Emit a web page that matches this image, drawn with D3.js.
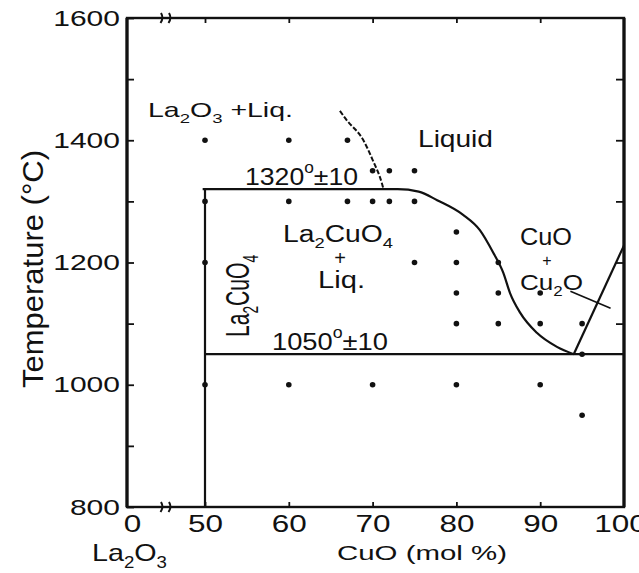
<!DOCTYPE html>
<html>
<head>
<meta charset="utf-8">
<script src="https://cdn.jsdelivr.net/npm/d3@7"></script>
<style>
  html, body { margin: 0; padding: 0; background: #fff; }
  svg { display: block; font-family: "Liberation Sans", Arial, sans-serif; }
</style>
</head>
<body>
<div id="chart"></div>
<script>
// ---- data ----
const tempTicks = [800, 1000, 1200, 1400, 1600];
const tempMinorTicks = [900, 1100, 1300, 1500];
const rightTicks = [1100, 1200, 1300, 1400, 1500];
const compTicks = [0, 50, 60, 70, 80, 90, 100];
const compLabels = ["0", "50", "60", "70", "80", "90", "100"];
const topTicks = [50, 60, 70, 80, 90];

// experimental points (CuO mol%, temperature)
const pointComp = [50, 60, 67, 70, 72, 75, 50, 60, 67, 70, 72, 75, 80, 50, 75, 80, 85,
                   80, 85, 90, 80, 85, 90, 95, 95, 50, 60, 70, 80, 90, 95];
const pointTemp = [1400, 1400, 1400, 1350, 1350, 1350, 1300, 1300, 1300, 1300, 1300, 1300, 1250, 1200, 1200, 1200, 1200,
                   1150, 1150, 1150, 1100, 1100, 1100, 1100, 1050, 1000, 1000, 1000, 1000, 1000, 950];

// liquidus of La2CuO4 (starts with the 1320 peritectic line)
const liquidusComp = [48.5, 60, 70, 73, 75.5, 77.7, 80.8, 82.8, 84.4, 85.6, 86.4, 87.6, 89.6, 92.0, 94.0];
const liquidusTemp = [1320, 1320, 1320, 1320, 1316, 1302, 1278, 1253, 1216, 1183, 1150, 1118, 1085, 1062, 1050];
// La2O3 liquidus (dashed)
const la2o3Comp = [66.1, 66.9, 68.9, 70.0, 71.1, 71.3];
const la2o3Temp = [1448, 1433, 1400, 1368, 1330, 1320];
// CuO / Cu2O boundary
const cuoComp = [94, 100];
const cuoTemp = [1050, 1228];
// La2CuO4 line compound and eutectic
const compoundComp = 50;
const compoundTemp = [1320, 800];
const eutecticTemp = 1050;
const eutecticComp = [50, 100];
// pointer from the Cu2O label
const pointerComp = [93.6, 98.4];
const pointerTemp = [1153, 1125];
const breakComp = 25;

// ---- layout ----
const W = 639, H = 573;
const MARGIN = {TOP: 18, BOTTOM: 66, LEFT: 127, RIGHT: 15};
const WIDTH = W - MARGIN.LEFT - MARGIN.RIGHT;
const HEIGHT = H - MARGIN.TOP - MARGIN.BOTTOM;
const INK = "#111";

const svg = d3.select("#chart").append("svg")
    .attr("width", W)
    .attr("height", H);
const g = svg.append("g")
    .attr("transform", `translate(${MARGIN.LEFT}, ${MARGIN.TOP})`);

// broken axis: 0..50 squeezed, 50..100 full
const x = d3.scaleLinear().domain([0, 50, 100]).range([0, 78, WIDTH]);
const y = d3.scaleLinear().domain([800, 1600]).range([HEIGHT, 0]);

// text helper (wide lettering of the scan -> textLength)
function label(parent, parts, o) {
    const t = parent.append("text")
        .attr("transform", `translate(${o.x},${o.y})` + (o.rotate ? ` rotate(${o.rotate})` : ""))
        .attr("font-size", o.size)
        .attr("text-anchor", o.anchor || "start")
        .attr("fill", INK);
    if (o.len) t.attr("textLength", o.len).attr("lengthAdjust", "spacingAndGlyphs");
    let shift = 0;
    parts.forEach(p => {
        const [str, kind] = Array.isArray(p) ? p : [p, null];
        const target = kind === "sub" ? o.size * 0.28 : kind === "sup" ? -o.size * 0.5 : 0;
        t.append("tspan")
            .attr("dy", target - shift)
            .attr("font-size", kind ? o.size * 0.65 : o.size)
            .text(str);
        shift = target;
    });
    return t;
}

// ---- axes ----
const yAxisCall = d3.axisLeft(y).tickValues(tempTicks).tickSizeInner(-7).tickSizeOuter(0).tickPadding(7)
    .tickFormat(d3.format("d"));
const yAxisGroup = g.append("g").call(yAxisCall);
yAxisGroup.selectAll("text")
    .attr("font-size", 22)
    .attr("font-family", "Liberation Sans, Arial, sans-serif")
    .attr("textLength", d => String(d).length * 16.7)
    .attr("lengthAdjust", "spacingAndGlyphs");

g.append("g").call(d3.axisLeft(y).tickValues(tempMinorTicks).tickSize(-7).tickFormat(""));
g.append("g").attr("transform", `translate(${WIDTH}, 0)`)
    .call(d3.axisRight(y).tickValues(rightTicks).tickSize(-8).tickFormat(""));

const xAxisCall = d3.axisBottom(x).tickValues(compTicks).tickSizeInner(-5).tickSizeOuter(0).tickPadding(9)
    .tickFormat((d, i) => compLabels[i]);
const xAxisGroup = g.append("g").attr("transform", `translate(0, ${HEIGHT})`).call(xAxisCall);
xAxisGroup.selectAll("text")
    .attr("font-size", 23)
    .attr("font-family", "Liberation Sans, Arial, sans-serif")
    .attr("textLength", d => String(d).length * 17.5)
    .attr("lengthAdjust", "spacingAndGlyphs");
xAxisGroup.selectAll(".tick").filter(d => d === 0 || d === 100).select("line").remove();
xAxisGroup.selectAll(".tick").filter(d => d === 0).select("text").attr("x", 5);
xAxisGroup.selectAll(".tick").filter(d => d === 100).select("text").attr("x", -4);

g.append("g").call(d3.axisTop(x).tickValues(topTicks).tickSize(-5).tickFormat(""));

g.selectAll(".domain").remove();
g.selectAll(".tick line").attr("stroke", INK).attr("stroke-width", 1.8);
g.selectAll(".tick text").attr("fill", INK);

// frame
g.append("rect")
    .attr("x", 0).attr("y", 0)
    .attr("width", WIDTH).attr("height", HEIGHT)
    .attr("fill", "none").attr("stroke", INK).attr("stroke-width", 2.4);
g.append("line").attr("x1", 0).attr("x2", 0).attr("y1", 0).attr("y2", HEIGHT)
    .attr("stroke", INK).attr("stroke-width", 3.2);
g.append("line").attr("x1", WIDTH).attr("x2", WIDTH).attr("y1", 0).attr("y2", HEIGHT)
    .attr("stroke", INK).attr("stroke-width", 3.2);

// axis breaks
[0, HEIGHT].forEach(yy => {
    [-4, 4].forEach(off => {
        const bx = x(breakComp) + off;
        g.append("path")
            .attr("d", `M${bx - 1.5},${yy + 5} Q${bx + 2},${yy} ${bx - 1},${yy - 5}`)
            .attr("fill", "none").attr("stroke", INK).attr("stroke-width", 2);
    });
});

// ---- phase boundaries ----
const line = d3.line().x(d => x(d[0])).y(d => y(d[1])).curve(d3.curveMonotoneX);

g.append("path")
    .datum(liquidusComp.map((c, i) => [c, liquidusTemp[i]]))
    .attr("d", line)
    .attr("fill", "none").attr("stroke", INK).attr("stroke-width", 2.2);

g.append("path")
    .datum(la2o3Comp.map((c, i) => [c, la2o3Temp[i]]))
    .attr("d", line)
    .attr("fill", "none").attr("stroke", INK).attr("stroke-width", 2)
    .attr("stroke-dasharray", "5,2");

g.append("line")
    .attr("x1", x(compoundComp)).attr("x2", x(compoundComp))
    .attr("y1", y(compoundTemp[0])).attr("y2", y(compoundTemp[1]))
    .attr("stroke", INK).attr("stroke-width", 2.2);

g.append("line")
    .attr("x1", x(eutecticComp[0])).attr("x2", x(eutecticComp[1]))
    .attr("y1", y(eutecticTemp)).attr("y2", y(eutecticTemp))
    .attr("stroke", INK).attr("stroke-width", 2.2);

g.append("line")
    .attr("x1", x(cuoComp[0])).attr("x2", x(cuoComp[1]))
    .attr("y1", y(cuoTemp[0])).attr("y2", y(cuoTemp[1]))
    .attr("stroke", INK).attr("stroke-width", 2.2);

g.append("line")
    .attr("x1", x(pointerComp[0])).attr("x2", x(pointerComp[1]))
    .attr("y1", y(pointerTemp[0])).attr("y2", y(pointerTemp[1]))
    .attr("stroke", INK).attr("stroke-width", 1.6);

// ---- experimental points ----
g.selectAll("circle.pt")
    .data(pointComp.map((c, i) => [c, pointTemp[i]]))
    .enter()
    .append("circle")
        .attr("class", "pt")
        .attr("cx", d => x(d[0]))
        .attr("cy", d => y(d[1]))
        .attr("r", 2.8)
        .attr("fill", INK);

// ---- labels (page coords) ----
label(svg, ["La", ["2", "sub"], "O", ["3", "sub"], " +Liq."], {x: 148, y: 117, size: 21, len: 145});
label(svg, ["Liquid"], {x: 418, y: 147, size: 24, len: 75});
label(svg, ["1320", ["o", "sup"], "±10"], {x: 245, y: 185, size: 24, len: 113});
label(svg, ["La", ["2", "sub"], "CuO", ["4", "sub"]], {x: 283, y: 242, size: 23, len: 110});
label(svg, ["+"], {x: 340, y: 265, size: 20, anchor: "middle"});
label(svg, ["Liq."], {x: 318, y: 288, size: 23, len: 47});
label(svg, ["1050", ["o", "sup"], "±10"], {x: 272, y: 350, size: 24, len: 116});
label(svg, ["CuO"], {x: 520, y: 245, size: 23, len: 52});
label(svg, ["+"], {x: 547, y: 266, size: 16, anchor: "middle"});
label(svg, ["Cu", ["2", "sub"], "O"], {x: 520, y: 290, size: 22, len: 63});
label(svg, ["La", ["2", "sub"], "CuO", ["4", "sub"]], {x: 249, y: 337, size: 33, len: 82, rotate: -90});
label(svg, ["Temperature (°C)"], {x: 43, y: 388, size: 29, len: 238, rotate: -90});
label(svg, ["CuO (mol %)"], {x: 337, y: 560, size: 21, len: 170});
label(svg, ["La", ["2", "sub"], "O", ["3", "sub"]], {x: 92, y: 561, size: 24, len: 75});
</script>
</body>
</html>
